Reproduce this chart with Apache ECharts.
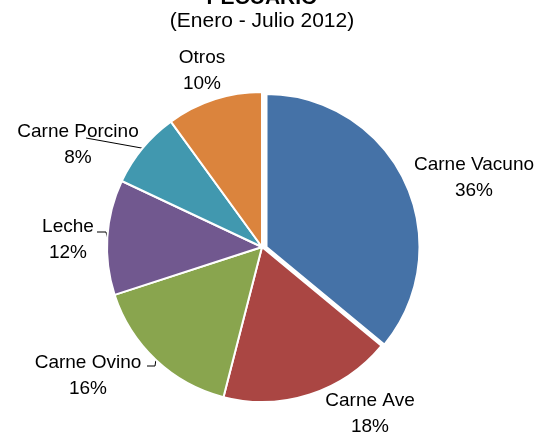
<!DOCTYPE html>
<html>
<head>
<meta charset="utf-8">
<script src="https://cdn.jsdelivr.net/npm/echarts@6/dist/echarts.min.js"></script>
<style>
html,body{margin:0;padding:0;background:#fff;}
#chart{width:547px;height:436px;}
</style>
</head>
<body>
<div id="chart"></div>
<script>
var categories = ['Carne Vacuno', 'Carne Ave', 'Carne Ovino', 'Leche', 'Carne Porcino', 'Otros'];
var values = [36, 18, 16, 12, 8, 10];
var colors = ['#4572A7', '#AA4643', '#89A54E', '#71588F', '#4198AF', '#DB843D'];
var explodedIndex = 0;

// layout only
var CX = 262, CY = 247, R = 155;
var EXPLODE_DX = 4.5, EXPLODE_DY = 0, R_EXPLODED = 153;
var labelPos = [[474, 178], [370, 414], [88, 376], [68, 240], [78, 145], [202, 71]];
// guide-line bend/end points for labels that have a leader line (layout only)
var guides = {
  2: [[155, 366], [147, 366]],
  3: [[106, 232], [97, 232]],
  4: [[86, 138], [86, 138]]
};

var total = values.reduce(function (a, b) { return a + b; }, 0);
function midAngle(i) {
  var before = 0;
  for (var k = 0; k < i; k++) before += values[k];
  return (before + values[i] / 2) / total * 2 * Math.PI;
}
function edgePoint(i) {
  var a = midAngle(i);
  return [CX + R * Math.sin(a), CY - R * Math.cos(a)];
}

var chart = echarts.init(document.getElementById('chart'));

var mainData = categories.map(function (c, i) {
  return {
    name: c,
    value: values[i],
    itemStyle: i === explodedIndex
      ? { color: 'rgba(0,0,0,0)', borderWidth: 0 }
      : { color: colors[i] },
    labelLine: { show: !!guides[i] }
  };
});
var explodedData = categories.map(function (c, i) {
  return {
    name: c,
    value: values[i],
    itemStyle: i === explodedIndex
      ? { color: colors[i] }
      : { color: 'rgba(0,0,0,0)', borderWidth: 0 }
  };
});

chart.setOption({
  animation: false,
  backgroundColor: '#fff',
  title: [{
    text: 'PECUARIO',
    left: 257,
    textAlign: 'center',
    top: -17,
    textStyle: { fontFamily: 'Liberation Sans', fontWeight: 'bold', fontSize: 21, color: '#000' }
  }, {
    text: '(Enero - Julio 2012)',
    left: 257,
    textAlign: 'center',
    top: 6,
    textStyle: { fontFamily: 'Liberation Sans', fontWeight: 'normal', fontSize: 21, color: '#000' }
  }],
  series: [{
    type: 'pie',
    center: [CX, CY],
    radius: R,
    startAngle: 90,
    clockwise: true,
    avoidLabelOverlap: false,
    silent: true,
    itemStyle: { borderColor: '#fff', borderWidth: 2 },
    label: {
      show: true,
      position: 'outside',
      formatter: '{b}\n{d}%',
      fontFamily: 'Liberation Sans',
      fontSize: 19,
      lineHeight: 26,
      color: '#000',
      align: 'center'
    },
    labelLine: { show: true, length: 5, length2: 5, lineStyle: { color: '#000', width: 1 } },
    labelLayout: function (p) {
      var i = p.dataIndex;
      var pos = labelPos[i];
      var out = { x: pos[0], y: pos[1], align: 'center', verticalAlign: 'middle' };
      if (guides[i]) {
        out.labelLinePoints = [edgePoint(i), guides[i][0], guides[i][1]];
      }
      return out;
    },
    emphasis: { disabled: true },
    data: mainData
  }, {
    type: 'pie',
    center: [CX + EXPLODE_DX, CY + EXPLODE_DY],
    radius: R_EXPLODED,
    startAngle: 90,
    clockwise: true,
    silent: true,
    itemStyle: { borderColor: '#fff', borderWidth: 2 },
    label: { show: false },
    labelLine: { show: false },
    emphasis: { disabled: true },
    data: explodedData
  }]
});
</script>
</body>
</html>
